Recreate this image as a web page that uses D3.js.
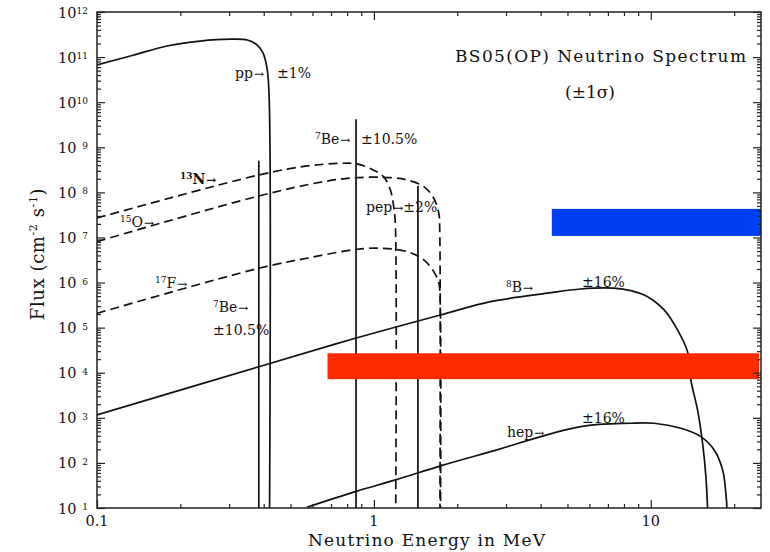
<!DOCTYPE html>
<html>
<head>
<meta charset="utf-8">
<script src="https://cdn.jsdelivr.net/npm/d3@7"></script>
<style>
  body { margin: 0; background: #fff; }
  text { font-family: "DejaVu Serif", serif; fill: #111; }
</style>
</head>
<body>
<div id="canvas"></div>
<script>
"use strict"

let svgWidth = 770;
let svgHeight = 552;

// plot frame
let plotLeft = 97, plotRight = 761, plotTop = 12, plotBottom = 508;

/* Spectra: energy (MeV), flux (cm-2 s-1 MeV-1) */
let ppEnergy = [0.1, 0.135, 0.179, 0.236, 0.303, 0.349, 0.379, 0.398, 0.412, 0.419, 0.42];
let ppFlux   = [6.7e10, 1.1e11, 1.76e11, 2.27e11, 2.5e11, 2.4e11, 1.85e11, 1.23e11, 5.2e10, 1e10, 10];

let n13Energy = [0.1, 0.384, 0.573, 0.757, 0.869, 0.998, 1.085, 1.147, 1.179, 1.195, 1.199];
let n13Flux   = [2.7e7, 2.43e8, 3.85e8, 4.4e8, 4.27e8, 3.1e8, 2.2e8, 1.13e8, 4.8e7, 2e7, 10];

let o15Energy = [0.1, 0.384, 0.659, 0.869, 1.147, 1.318, 1.514, 1.645, 1.716, 1.728, 1.732];
let o15Flux   = [8.1e6, 8.3e7, 1.73e8, 2.12e8, 2.12e8, 1.88e8, 1.34e8, 7.4e7, 3.4e7, 1.7e7, 10];

let f17Energy = [0.1, 0.384, 0.573, 0.869, 1.056, 1.318, 1.514, 1.645, 1.716, 1.735, 1.74];
let f17Flux   = [2.08e5, 2.07e6, 3.46e6, 5.47e6, 5.77e6, 4.84e6, 3.17e6, 1.75e6, 9.7e5, 4e5, 10];

let b8Energy = [0.1, 0.384, 0.857, 1.74, 2.64, 4.23, 5.58, 7.37, 8.47, 9.73, 11.17, 12.49, 13.57, 13.95, 14.75, 15.38, 15.81, 16.03];
let b8Flux   = [1.16e3, 1.36e4, 5.8e4, 1.91e5, 3.78e5, 5.8e5, 7.2e5, 7.5e5, 6.6e5, 4.87e5, 2.47e5, 8.9e4, 2.94e4, 6.9e3, 1.5e3, 274, 50, 10];

let hepEnergy = [0.573, 0.857, 1.196, 1.74, 2.64, 5.58, 8.47, 10.28, 12.84, 15.16, 16.94, 18.17, 18.67, 18.83];
let hepFlux   = [10.4, 23.1, 42, 86, 178, 638, 758, 758, 587, 383, 194, 70, 21, 10];

/* Lines (7Be, 7Be, pep): energy and flux (cm-2 s-1) */
let lineEnergy = [0.384, 0.862, 1.442];
let lineFlux   = [5.0e8, 4.2e9, 1.39e8];

/* Shaded bands: energy range, flux range */
let bandEnergy = [[4.39, 25], [0.68, 24.6]];
let bandFlux   = [[1.08e7, 4.3e7], [7.2e3, 2.7e4]];
let bandColor  = ["#0040f5", "#ff2a00"];

/* Tick labels */
let xTickValues = [0.1, 1, 10];
let xTickLabels = ["0.1", "1", "10"];
let yExponents  = [1, 2, 3, 4, 5, 6, 7, 8, 9, 10, 11, 12];

let svg = d3.select("#canvas")
    .append("svg")
    .attr("width", svgWidth)
    .attr("height", svgHeight);

/* Scales */
let xScale = d3.scaleLog()
    .domain([0.1, 25])
    .range([plotLeft, plotRight]);

let yScale = d3.scaleLog()
    .domain([10, 1e12])
    .range([plotBottom, plotTop]);

svg.append("clipPath")
    .attr("id", "plotClip")
    .append("rect")
    .attr("x", plotLeft)
    .attr("y", plotTop)
    .attr("width", plotRight - plotLeft)
    .attr("height", plotBottom - plotTop);

let plot = svg.append("g").attr("clip-path", "url(#plotClip)");

function zipPts(es, fs) {
    return es.map((e, i) => [e, fs[i]]);
}

let line = d3.line()
    .x(d => xScale(d[0]))
    .y(d => yScale(d[1]))
    .curve(d3.curveCatmullRom.alpha(0.5));

let curves = [
    {pts: zipPts(ppEnergy, ppFlux), dash: null},
    {pts: zipPts(n13Energy, n13Flux), dash: "9,5"},
    {pts: zipPts(o15Energy, o15Flux), dash: "9,5"},
    {pts: zipPts(f17Energy, f17Flux), dash: "9,5"},
    {pts: zipPts(b8Energy, b8Flux), dash: null},
    {pts: zipPts(hepEnergy, hepFlux), dash: null}
];

plot.selectAll("path.spectrum")
    .data(curves)
    .join("path")
    .attr("class", "spectrum")
    .attr("d", d => line(d.pts))
    .attr("fill", "none")
    .attr("stroke", "#111")
    .attr("stroke-width", 1.7)
    .attr("stroke-dasharray", d => d.dash);

/* Line sources */
plot.selectAll("line.lineSource")
    .data(lineEnergy)
    .join("line")
    .attr("class", "lineSource")
    .attr("x1", d => xScale(d))
    .attr("x2", d => xScale(d))
    .attr("y1", yScale(10))
    .attr("y2", (d, i) => yScale(lineFlux[i]))
    .attr("stroke", "#111")
    .attr("stroke-width", 1.7);

/* Bands */
plot.selectAll("rect.band")
    .data(bandEnergy)
    .join("rect")
    .attr("class", "band")
    .attr("x", d => xScale(d[0]))
    .attr("width", d => xScale(d[1]) - xScale(d[0]))
    .attr("y", (d, i) => yScale(bandFlux[i][1]))
    .attr("height", (d, i) => yScale(bandFlux[i][0]) - yScale(bandFlux[i][1]))
    .attr("fill", (d, i) => bandColor[i]);

/* Frame */
svg.append("rect")
    .attr("x", plotLeft)
    .attr("y", plotTop)
    .attr("width", plotRight - plotLeft)
    .attr("height", plotBottom - plotTop)
    .attr("fill", "none")
    .attr("stroke", "#222")
    .attr("stroke-width", 1.5);

/* Ticks (inward on all four sides) */
let xMinor = [], xMajor = [];
[0.1, 1, 10].forEach(d => {
    for (let m = 1; m <= 9; m++) {
        let v = d * m;
        if (v > 25) break;
        (m === 1 ? xMajor : xMinor).push(v);
    }
});
let yMinor = [], yMajor = [];
yExponents.forEach(e => {
    yMajor.push(Math.pow(10, e));
    if (e < 12) for (let m = 2; m <= 9; m++) yMinor.push(m * Math.pow(10, e));
});

function axisPair(axisFn, scale, shift, vals, size) {
    svg.append("g")
        .attr("transform", shift)
        .call(axisFn(scale).tickValues(vals).tickSize(size).tickFormat(""))
        .call(g => g.select(".domain").remove())
        .call(g => g.selectAll("line").attr("stroke", "#222").attr("stroke-width", 1.2));
}
axisPair(d3.axisBottom, xScale, `translate(0,${plotBottom})`, xMajor, -8);
axisPair(d3.axisBottom, xScale, `translate(0,${plotBottom})`, xMinor, -4);
axisPair(d3.axisTop, xScale, `translate(0,${plotTop})`, xMajor, -8);
axisPair(d3.axisTop, xScale, `translate(0,${plotTop})`, xMinor, -4);
axisPair(d3.axisLeft, yScale, `translate(${plotLeft},0)`, yMajor, -8);
axisPair(d3.axisLeft, yScale, `translate(${plotLeft},0)`, yMinor, -4);
axisPair(d3.axisRight, yScale, `translate(${plotRight},0)`, yMajor, -8);
axisPair(d3.axisRight, yScale, `translate(${plotRight},0)`, yMinor, -4);

/* Tick labels */
svg.selectAll("text.xTick")
    .data(xTickValues)
    .join("text")
    .attr("class", "xTick")
    .attr("x", d => xScale(d))
    .attr("y", plotBottom + 18)
    .attr("text-anchor", "middle")
    .attr("font-size", 14.5)
    .text((d, i) => xTickLabels[i]);

let yLab = svg.selectAll("g.yTick")
    .data(yExponents)
    .join("g")
    .attr("class", "yTick")
    .attr("transform", d => `translate(0,${yScale(Math.pow(10, d))})`);
yLab.append("text")
    .attr("x", 58)
    .attr("y", 5.5)
    .attr("font-size", 14.5)
    .text("10");
yLab.append("text")
    .attr("x", 88)
    .attr("y", 2)
    .attr("text-anchor", "end")
    .attr("font-size", 9)
    .text(d => String(d));

/* Axis titles */
svg.append("text")
    .attr("x", 308)
    .attr("y", 546)
    .attr("font-size", 17)
    .attr("textLength", 237)
    .attr("lengthAdjust", "spacing")
    .text("Neutrino Energy in MeV");

let yTitle = svg.append("text")
    .attr("transform", "translate(44,254) rotate(-90)")
    .attr("text-anchor", "middle")
    .attr("font-size", 18)
    .attr("letter-spacing", 0.6);
yTitle.append("tspan").text("Flux (cm");
yTitle.append("tspan").attr("font-size", 11).attr("dy", -7).text("-2");
yTitle.append("tspan").attr("dy", 7).text(" s");
yTitle.append("tspan").attr("font-size", 11).attr("dy", -7).text("-1");
yTitle.append("tspan").attr("dy", 7).text(")");

/* Title */
svg.append("text")
    .attr("x", 455)
    .attr("y", 62)
    .attr("font-size", 17)
    .attr("textLength", 291)
    .attr("lengthAdjust", "spacing")
    .text("BS05(OP) Neutrino Spectrum");
svg.append("text")
    .attr("x", 590)
    .attr("y", 98)
    .attr("text-anchor", "middle")
    .attr("font-size", 17)
    .text("(±1σ)");

/* Annotations: [x, y, [[text, kind]...], bold]; kind 1 = superscript, 2 = arrow */
let notes = [
    [235, 78, [["pp", 0], ["→", 2]]],
    [277, 78, [["±1%", 0]]],
    [315, 144, [["7", 1], ["Be", 0], ["→", 2]]],
    [361, 144, [["±10.5%", 0]]],
    [180, 184, [["13", 1], ["N", 0], ["→", 2]], true],
    [120, 227, [["15", 1], ["O", 0], ["→", 2]]],
    [155, 288, [["17", 1], ["F", 0], ["→", 2]]],
    [213, 312, [["7", 1], ["Be", 0], ["→", 2]]],
    [213, 335, [["±10.5%", 0]]],
    [366, 212, [["pep", 0], ["→", 2], ["±2%", 0]]],
    [506, 292, [["8", 1], ["B", 0], ["→", 2]]],
    [582, 287, [["±16%", 0]]],
    [507, 437, [["hep", 0], ["→", 2]]],
    [582, 423, [["±16%", 0]]]
];

notes.forEach(n => {
    let t = svg.append("text")
        .attr("x", n[0])
        .attr("y", n[1])
        .attr("font-size", 14)
        .attr("font-weight", n[3] ? "bold" : "normal");
    n[2].forEach((p, i) => {
        let s = t.append("tspan").text(p[0]);
        let prev = i > 0 ? n[2][i - 1][1] : 0;
        if (p[1] === 1) s.attr("font-size", 9).attr("dy", -5);
        else if (prev === 1) s.attr("dy", 5);
        if (p[1] === 2) s.attr("font-size", 12).attr("dx", 1);
    });
});
</script>
</body>
</html>
